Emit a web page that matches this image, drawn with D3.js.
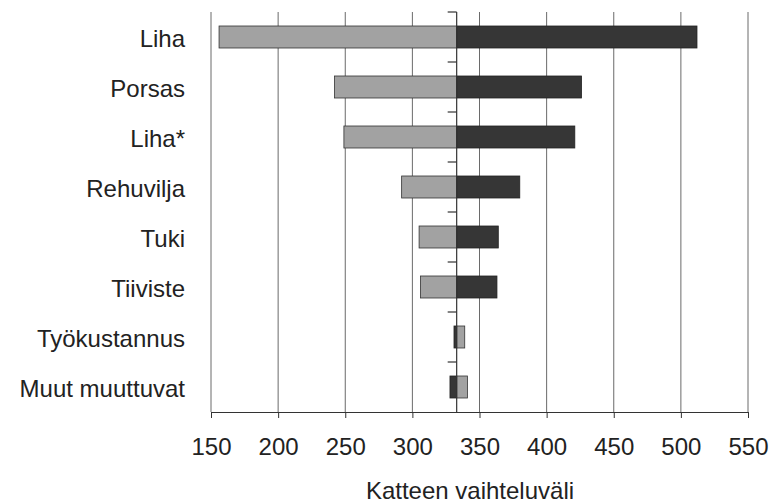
<!DOCTYPE html>
<html>
<head>
<meta charset="utf-8">
<script src="https://cdn.jsdelivr.net/npm/d3@7/dist/d3.min.js"></script>
<style>
  html, body { margin: 0; padding: 0; background: #fff; }
  svg { display: block; }
  text { font-family: "Liberation Sans", Arial, sans-serif; fill: #222; }
</style>
</head>
<body>
<svg id="chart" width="773" height="503"></svg>
<script>
// ---- data ----
const categories = ["Liha", "Porsas", "Liha*", "Rehuvilja", "Tuki", "Tiiviste", "Työkustannus", "Muut muuttuvat"];
const lightValues = [156, 242, 249, 292, 305, 306, 339, 341];
const darkValues  = [512, 426, 421, 380, 364, 363, 331, 328];
const baseValue = 333;
const tickValues = [150, 200, 250, 300, 350, 400, 450, 500, 550];
const axisTitle = "Katteen vaihteluväli";

// ---- layout ----
const plotLeft = 211, plotRight = 748, plotTop = 12, plotBottom = 412;
const svg = d3.select("#chart");

const x = d3.scaleLinear().domain([150, 550]).range([plotLeft, plotRight]);
const y = d3.scaleBand().domain(categories).range([plotTop, plotBottom])
  .paddingInner(0.56).paddingOuter(0.28);

// gridlines
svg.append("g").selectAll("line").data(tickValues).join("line")
  .attr("x1", d => x(d)).attr("x2", d => x(d))
  .attr("y1", plotTop).attr("y2", plotBottom)
  .attr("stroke", "#6a6a6a").attr("stroke-width", 1);

// bottom axis
const xAxis = d3.axisBottom(x).tickValues(tickValues).tickSize(6).tickPadding(20).tickSizeOuter(0);
const gx = svg.append("g").attr("transform", `translate(0,${plotBottom})`).call(xAxis);
gx.select(".domain").attr("stroke", "#333").attr("stroke-width", 1.2);
gx.selectAll(".tick line").attr("stroke", "#333");
gx.selectAll(".tick text").style("font-size", "24px").attr("fill", "#222")
  .style("font-family", '"Liberation Sans", Arial, sans-serif');

// bars
const data = categories.map((c, i) => ({ c, light: lightValues[i], dark: darkValues[i] }));
const gb = svg.append("g");
gb.selectAll("rect.light").data(data).join("rect").attr("class", "light")
  .attr("x", d => x(Math.min(d.light, baseValue)))
  .attr("width", d => Math.abs(x(d.light) - x(baseValue)))
  .attr("y", d => y(d.c)).attr("height", y.bandwidth())
  .attr("fill", "#a2a2a2").attr("stroke", "#333").attr("stroke-width", 0.8);
gb.selectAll("rect.dark").data(data).join("rect").attr("class", "dark")
  .attr("x", d => x(Math.min(d.dark, baseValue)))
  .attr("width", d => Math.abs(x(d.dark) - x(baseValue)))
  .attr("y", d => y(d.c)).attr("height", y.bandwidth())
  .attr("fill", "#363636").attr("stroke", "#222").attr("stroke-width", 0.8);

// center (category) axis at base value
const gc = svg.append("g").attr("transform", `translate(${x(baseValue)},0)`);
gc.append("line").attr("x1", 0).attr("x2", 0).attr("y1", plotTop).attr("y2", plotBottom)
  .attr("stroke", "#333").attr("stroke-width", 1.2);
const boundaries = categories.map(c => y(c) - y.step() * y.paddingInner() / 2);
gc.selectAll("line.tk").data(boundaries).join("line").attr("class", "tk")
  .attr("x1", -9).attr("x2", 0).attr("y1", d => d).attr("y2", d => d)
  .attr("stroke", "#333").attr("stroke-width", 1.2);

// category labels
svg.append("g").selectAll("text").data(categories).join("text")
  .attr("x", 185).attr("y", d => y(d) + y.bandwidth() / 2)
  .attr("dy", "0.4em").attr("text-anchor", "end")
  .style("font-size", "24px").text(d => d);

// axis title
svg.append("text").attr("x", 470).attr("y", 499)
  .attr("text-anchor", "middle").style("font-size", "24px").text(axisTitle);
</script>
</body>
</html>
